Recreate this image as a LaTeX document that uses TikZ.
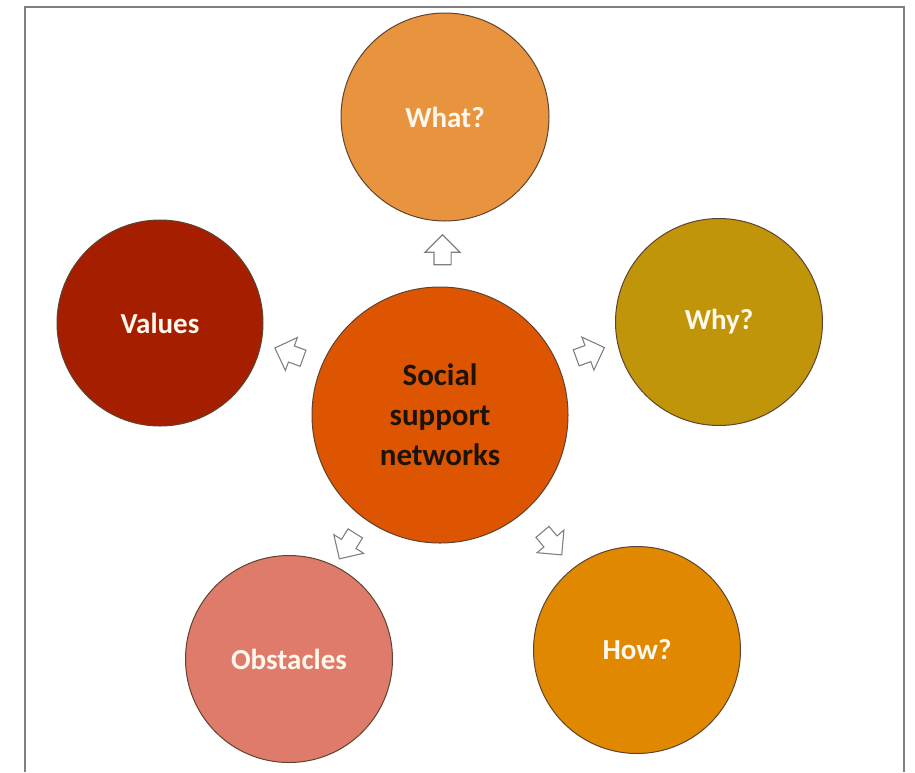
\documentclass[tikz,border=0pt]{standalone}
\usepackage{fontspec}
\setmainfont{Carlito}
\usetikzlibrary{shapes.arrows,calc}
\definecolor{whatc}{HTML}{E8943E}
\definecolor{whyc}{HTML}{C0950A}
\definecolor{howc}{HTML}{E08800}
\definecolor{obstc}{HTML}{DE7B6B}
\definecolor{valc}{HTML}{A51E00}
\definecolor{socc}{HTML}{DD5500}
\definecolor{rimc}{HTML}{5E4330}
\definecolor{labc}{HTML}{FFF8EC}
\begin{document}
\begin{tikzpicture}[x=1pt,y=-1pt,
    bubble/.style ={circle, draw=rimc, line width=1pt, inner sep=0pt, minimum size=#1,
      text=labc, font=\bfseries\fontsize{29}{34}\selectfont},
    pointer/.style ={single arrow, draw=gray, fill=white, line width=1.1pt, inner xsep=0pt,
      inner ysep=8pt, minimum height=30pt, single arrow head extend=9pt, rotate=#1}]
    \useasboundingbox (0,0) rectangle (915,772);
    \draw[gray, line width=2pt] (25,772) -- (25,7) -- (904,7) -- (904,772);
    \node[bubble=256pt, fill=socc, text=black!85!brown, align=center,
      font=\bfseries\fontsize{31}{40}\selectfont] (s) at (440,415) {Social\\support\\networks};
    \node[bubble=208pt, fill=whatc] (w) at (445,117) {What?};
    \node[bubble=207pt, fill=whyc] (y) at (719,322) {Why?};
    \node[bubble=207pt, fill=howc] (h) at (637,650) {How?};
    \node[bubble=207pt, fill=obstc] (o) at (289,659) {Obstacles};
    \node[bubble=206pt, fill=valc] (v) at (160,323) {Values};
    \node[pointer=90] (pw) at ($(s.90)!.5!(w.-90)$) {};
    \node[pointer=20] (py) at ($(s.30)!.5!(y.200)$) {};
    \node[pointer=-50] (ph) at ($(s.-55)!.5!(h.120)$) {};
    \node[pointer=-122] (po) at ($(s.-125)!.5!(o.65)$) {};
    \node[pointer=160] (pv) at ($(s.150)!.5!(v.-20)$) {};
  \end{tikzpicture}
\end{document}
